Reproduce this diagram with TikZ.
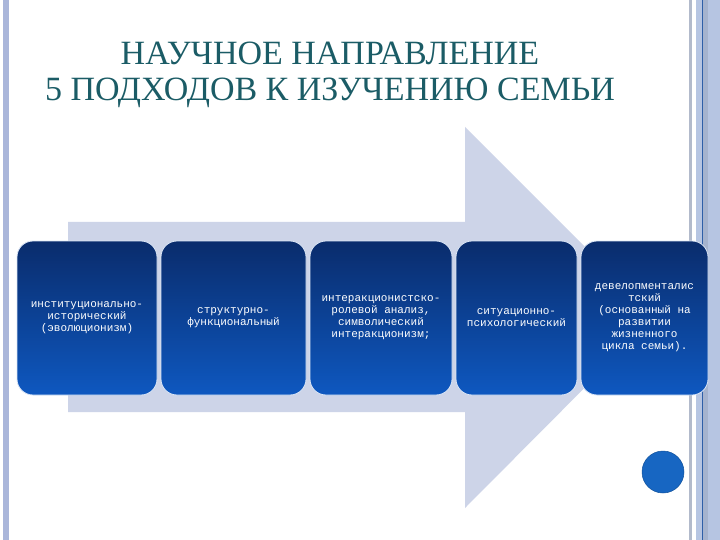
\documentclass[tikz,border=0pt]{standalone}
\usepackage{fontspec}
\setmainfont{Liberation Serif}
\newfontfamily\boxfont{Liberation Mono}
\definecolor{arrowc}{HTML}{CDD4E8}
\definecolor{titlec}{HTML}{1B5C66}
\definecolor{boxtop}{HTML}{0A2C6C}
\definecolor{boxbot}{HTML}{0E58C0}
\definecolor{leftstrip}{HTML}{AAB6DA}
\definecolor{graystrip}{HTML}{B2BACB}
\definecolor{rightband}{HTML}{B6C5E2}
\definecolor{rightline}{HTML}{2E5FA8}
\definecolor{dotc}{HTML}{1766C2}
\tikzset{
  box/.style={rounded corners=16pt, inner sep=0pt, top color=boxtop, bottom color=boxbot,
    draw=white!85!boxbot, line width=0.8pt, text=white, align=center,
    font=\boxfont\fontsize{11}{12}\selectfont, minimum height=154pt},
  titletext/.style={text=titlec, font=\fontsize{34}{40}\selectfont, inner sep=0pt}
}
\begin{document}
\begin{tikzpicture}[x=1pt,y=-1pt]
\useasboundingbox (0,0) rectangle (720,540);
\fill[white] (0,0) rectangle (720,540);
% borders
\fill[leftstrip] (3,0) rectangle (9,540);
\fill[graystrip] (689,0) rectangle (692,540);
\fill[rightband] (696,0) rectangle (720,540);
\fill[rightband!85!black!60!rightband] (703,0) rectangle (708,540);
\draw[rightline, line width=0.9pt] (702,0) -- (702,540);
% arrow
\fill[arrowc] (68,222) -- (465,222) -- (465,127) -- (655,317) -- (465,508) -- (465,412) -- (68,412) -- cycle;
% title
\node[titletext, anchor=base] (t1) at (330,65) {НАУЧНОЕ НАПРАВЛЕНИЕ};
\node[titletext, anchor=base] (t2) at (330,101) {5 ПОДХОДОВ К ИЗУЧЕНИЮ СЕМЬИ};
% boxes
\node[box, minimum width=140pt] (b1) at (87,318) {институционально-\\исторический\\(эволюционизм)};
\node[box, minimum width=145pt] (b2) at (233.5,318) {структурно-\\функциональный};
\node[box, minimum width=142pt] (b3) at (381,318) {интеракционистско-\\ролевой анализ,\\символический\\интеракционизм;};
\node[box, minimum width=121pt] (b4) at (516.5,318) {ситуационно-\\психологический};
\node[box, minimum width=127pt] (b5) at (644.5,318) {девелопменталис\\тский\\(основанный на\\развитии\\жизненного\\цикла семьи).};
% dot
\node[circle, fill=dotc, draw=dotc!80!black, line width=0.5pt, minimum size=42pt, inner sep=0pt] (dot) at (663,472) {};
\end{tikzpicture}
\end{document}
